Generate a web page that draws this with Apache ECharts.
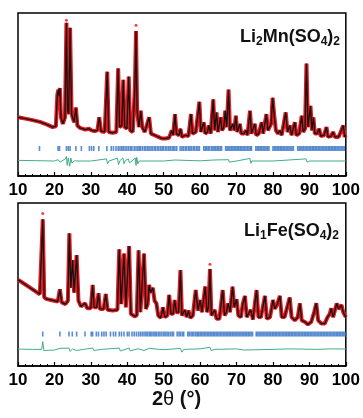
<!DOCTYPE html>
<html><head><meta charset="utf-8">
<script src="https://cdn.jsdelivr.net/npm/echarts@6/dist/echarts.min.js"></script>
<style>html,body{margin:0;padding:0;background:#fff}#c{width:363px;height:418px}</style>
</head><body><div id="c"></div>
<script>
// x tick labels (2theta, degrees)
const xTickLabels = [10,20,30,40,50,60,70,80,90,100];

// Li2Mn(SO4)2 profile vertices [2theta, intensity (a.u.)] (observed ~ calculated)
const profileMn = [[10,36],[12,35.2],[14,34.3],[16,33.2],[18,31.5],[19.5,30],[20.4,30.5],[20.8,50],[21.1,53],[21.3,49],[21.5,54],[21.8,36],[22.3,32],[22.9,36],[23.3,94],[23.6,40],[23.9,38],[24.3,91],[24.7,38],[25.4,33],[25.9,42],[26.3,31],[27,29.5],[28.5,28.5],[29.5,29],[30.2,28],[31,27.5],[31.8,28],[32.3,36],[32.8,27.5],[33.8,27],[34.5,64],[34.9,27],[36,26.5],[37,27],[37.5,66],[37.9,30],[38.5,31],[38.9,59],[39.3,30],[39.9,29],[40.4,61],[40.8,28],[41.5,27],[41.9,45],[42.1,55],[42.4,89],[42.7,40],[43.2,30],[43.7,40],[44.1,30],[44.8,27],[45.3,28],[46,36],[46.5,26],[47.5,25],[48.5,24],[49.5,23],[50.5,23],[51.5,23.5],[52.2,28],[52.6,25],[53.1,38],[53.5,26],[54.2,25],[54.6,29],[55,24],[56,25],[56.8,24.5],[57.5,38],[57.9,26],[58.8,27],[59.8,45.5],[60.2,27],[60.7,26],[61,33],[61.4,26],[62,27],[62.4,31],[62.9,26],[63.6,47],[64,28],[64.5,39],[64.9,27],[65.6,36],[66,28],[66.5,30],[66.9,40],[67.3,30],[67.8,53],[68.2,28],[68.6,27],[69,32],[69.4,28],[69.8,37],[70.2,27],[70.9,32],[71.3,26],[72,26],[72.6,28],[73,25],[73.7,40],[74.1,26],[75,32],[75.4,25],[76.1,26],[76.9,33],[77.3,26],[77.8,27],[78.2,38],[78.6,28],[79.5,32],[79.9,48],[80.4,36],[80.8,28],[81.4,26],[81.9,28],[82.4,25],[83.5,39],[84,27],[84.6,31],[85.1,25],[86,33],[86.4,25],[87.2,26],[87.9,37],[88.3,27],[88.8,29],[89.2,69],[89.6,30],[90.3,43],[90.7,28],[91.1,36],[91.5,26],[92.1,26],[92.7,29],[93.1,24.5],[94,25],[94.7,30],[95.1,24],[96,24.5],[96.5,27],[97,24],[98,24],[98.6,27],[99.3,31],[99.7,24],[100,25]];
const obsTopsMn = [[23.3,95.5],[42.4,92.5]];
const braggMn = [15.9,21.0,21.4,23.3,23.8,24.3,25.9,27.4,29.6,30.2,30.8,32.2,34.4,35.6,36.2,36.9,37.5,38.0,38.5,38.9,39.4,39.9,40.4,40.9,41.3,41.9,42.4,42.9,43.3,43.7,44.2,44.7,45.1,45.6,46.0,46.5,46.9,47.4,47.8,48.3,48.7,49.2,49.6,50.0,50.5,50.9,51.4,51.8,52.3,52.7,53.1,53.6,54.5,55.0,55.4,55.9,56.3,56.8,57.2,57.6,58.1,58.5,59.0,59.4,59.8,61.0,61.4,61.8,62.2,62.6,63.1,63.5,63.9,64.3,64.7,65.1,65.5,65.9,67.0,67.4,67.8,68.2,68.6,69.0,69.4,69.8,70.2,70.6,71.0,71.4,71.8,72.2,72.6,73.0,73.4,73.8,74.1,75.3,75.7,76.1,76.5,76.9,77.3,77.7,78.1,78.5,78.9,80.0,80.4,80.8,81.2,81.6,82.0,82.4,82.8,83.2,83.6,84.0,84.4,84.8,85.2,85.6,86.8,87.2,87.6,88.0,88.4,88.8,89.2,89.6,90.0,90.4,90.8,91.2,91.6,92.0,92.4,92.8,93.2,93.6,94.0,94.4,94.8,95.2,95.6,96.0,96.4,96.8,97.2,97.6,98.0,98.4,98.8,99.2,99.6];
const diffMn = [[10,9.6],[15,9.4],[20,9.2],[21,10],[21.5,8.5],[22,9.2],[23,10.5],[23.3,12],[23.5,6.5],[23.8,11],[24.2,6],[24.5,11],[24.8,8],[25.5,9.3],[26,8.5],[26.5,9.2],[30,9.2],[34.3,10.5],[34.6,7.5],[35,9.2],[37.3,11],[37.6,7],[38,9.5],[38.8,11],[39.1,7.5],[39.5,9.5],[40.3,10.5],[40.6,8],[41,9.2],[42.2,11],[42.4,6.5],[42.6,11.5],[42.9,7.5],[43.3,9.2],[50,9.2],[53,9.8],[53.2,8.8],[60,9.3],[63.6,9.8],[64,8.8],[67.8,10],[68,8.5],[70,9.2],[73.7,10.8],[73.9,7.8],[74.2,9.2],[80,9.2],[89.1,10.5],[89.4,8.5],[90,9.2],[100,9.2]];

// Li1Fe(SO4)2 profile vertices
const profileFe = [[10,52.8],[11,51.5],[12,50],[13,48.5],[14,47],[15,45.5],[16,44],[16.4,43.5],[16.8,90],[17.2,42],[18,41],[19,40.5],[20,40],[20.9,39.5],[21.5,47],[22,39],[23,38],[23.7,40],[24.1,81.4],[24.5,48],[25,65],[25.4,45],[26.1,68],[26.6,40],[27.3,36.5],[28.4,38.5],[29,35.5],[30,35.5],[30.5,49.7],[30.9,36],[31.6,36],[32.1,44.6],[32.5,35],[33.5,35],[34.1,44.2],[34.6,34.5],[36,34],[37.3,34.5],[37.8,71.6],[38.3,38],[38.7,37],[39.1,69],[39.6,36],[40,35],[40.5,73.6],[41,32],[42,30.5],[42.6,31],[43.1,71],[43.6,33],[44.1,32],[44.6,69],[45.1,35],[45.6,38],[46,49.7],[46.4,45],[47,48],[47.5,40],[48,38.4],[48.5,31],[49.2,29.5],[49.8,36],[50.3,30],[51,31],[51.5,43.6],[52,32],[52.6,32],[53,40.5],[53.5,33],[54.1,33],[54.6,58.9],[55,31],[55.8,34.4],[56.3,30],[56.8,34],[57.3,29.5],[58,31],[58.8,46.6],[59.4,34],[60,40.5],[60.5,33],[61.4,48.7],[61.9,33],[62.3,36],[62.7,59.5],[63.1,31],[64,34.4],[64.5,29],[65.3,29],[66.2,46.6],[66.7,31],[67.2,33],[67.7,38.4],[68.2,33],[68.9,48.7],[69.4,36],[70,41],[70.5,31],[71.2,30],[71.7,38],[72.3,43],[72.8,30],[73.9,34.4],[74.5,28.5],[75,29],[75.5,46.6],[76,30],[76.7,30],[77.2,36],[77.8,43],[78.3,29],[79.2,30],[80,40.5],[80.5,35],[81.2,38],[81.9,43],[82.4,30],[83.2,30],[84,37],[84.6,42],[85.1,30],[86,28],[86.8,30],[87.4,38.4],[87.9,28],[88.8,27],[89.6,25.5],[90.5,27],[91.3,33],[91.9,38.5],[92.4,28],[93.3,26],[94.2,26],[95,30],[95.6,32],[96,35.4],[96.5,30],[97,34],[97.5,38.4],[98,35],[98.8,37.4],[99.3,33],[100,30]];
const obsTopsFe = [[16.8,93.5],[62.7,62.5]];
const braggFe = [16.8,21.5,24.0,24.9,26.1,28.4,30.1,30.5,31.5,32.1,33.0,33.6,34.2,35.4,36.2,36.8,37.8,38.4,39.1,40.0,40.5,41.3,41.9,42.5,43.1,43.6,44.1,44.6,45.1,45.5,46.0,46.4,46.8,47.3,47.7,48.1,48.6,49.0,49.5,50.0,50.4,50.9,51.3,51.8,52.3,52.7,53.7,54.2,54.6,55.1,55.5,56.6,57.0,57.5,57.9,58.3,58.8,59.2,59.6,60.0,60.4,60.8,61.2,61.6,62.0,62.4,62.8,63.2,63.6,64.0,64.4,64.8,65.2,65.6,66.0,66.4,66.8,67.2,67.6,68.0,68.4,68.8,69.2,69.6,70.0,70.4,70.8,71.2,71.6,72.0,72.4,72.8,73.2,73.6,74.0,74.4,75.4,75.8,76.2,76.6,77.0,77.4,77.8,78.2,78.6,79.0,79.4,79.8,80.2,80.6,81.0,81.4,81.8,82.2,82.6,83.0,83.4,83.8,84.2,84.6,85.0,85.4,85.8,86.2,86.6,87.0,87.4,87.8,88.2,88.6,89.0,89.4,89.8,90.2,90.6,91.0,91.4,91.8,92.2,92.6,93.0,93.4,93.8,94.2,94.6,95.0,95.4,95.8,96.2,96.6,97.0,97.4,97.8,98.2,98.6,99.0,99.4,99.8];
const diffFe = [[10,10.4],[14,10.2],[16.5,10.2],[16.8,15],[17.1,9.5],[17.5,10],[20,9.8],[21.5,10.8],[22,9.8],[24,11],[24.3,9],[25,10.5],[26,9.5],[28,10.2],[30.5,11],[30.8,9.5],[33,10.2],[37.8,11],[38.1,9.2],[40.5,11],[40.8,9.3],[43,10.6],[44.6,9.5],[46,10.8],[50,10],[54.6,10.8],[55,8.5],[55.5,10.2],[60,10.5],[62.7,11.5],[63,9.5],[64,10.2],[70,10.5],[72,9.8],[80,10.2],[85,10.5],[92,10.2],[96,10.5],[100,10.4]];

const panels = [
  {profile: profileMn, tops: obsTopsMn, bragg: braggMn, diff: diffMn, braggLevel: 16.9},
  {profile: profileFe, tops: obsTopsFe, bragg: braggFe, diff: diffFe, braggLevel: 19.6}
];

const FONT = '"Liberation Sans", Arial, sans-serif';
const chart = echarts.init(document.getElementById('c'), null, {renderer: 'canvas'});

const grids = [
  {left: 18, width: 328, top: 13, height: 163},
  {left: 18, width: 328, top: 203, height: 163}
].map(g => Object.assign(g, {show: true, borderColor: '#000', borderWidth: 1.5, backgroundColor: 'transparent', containLabel: false}));

const xAxes = grids.map((g, i) => ({
  type: 'value', gridIndex: i, min: xTickLabels[0], max: xTickLabels[xTickLabels.length - 1], interval: 10,
  axisLine: {show: true, lineStyle: {color: '#000', width: 1.5}},
  axisTick: {show: true, inside: true, length: 4, lineStyle: {color: '#000', width: 1.2}},
  minorTick: {show: true, splitNumber: 5, length: 2, lineStyle: {color: '#000', width: 1}},
  splitLine: {show: false},
  axisLabel: {show: true, margin: 6, color: '#000', fontFamily: FONT, fontWeight: 'bold', fontSize: 17,
    formatter: v => xTickLabels.includes(v) ? String(v) : ''}
}));
const yAxes = grids.map((g, i) => ({type: 'value', gridIndex: i, min: 0, max: 100, show: false}));

const series = [];
panels.forEach((p, i) => {
  series.push({type: 'line', xAxisIndex: i, yAxisIndex: i, data: p.profile, showSymbol: false, symbol: 'none',
    lineStyle: {color: '#e3191f', width: 4}, z: 2, silent: true});
  series.push({type: 'scatter', xAxisIndex: i, yAxisIndex: i, data: p.tops, symbol: 'circle', symbolSize: 3,
    itemStyle: {color: '#e3191f'}, z: 2, silent: true});
  series.push({type: 'line', xAxisIndex: i, yAxisIndex: i, data: p.profile, showSymbol: false, symbol: 'none',
    lineStyle: {color: '#111', width: 1.3}, z: 3, silent: true});
  series.push({type: 'scatter', xAxisIndex: i, yAxisIndex: i, data: p.bragg.map(x => [x, p.braggLevel]),
    symbol: 'rect', symbolSize: [1.6, 5], itemStyle: {color: '#2f6fc4'}, z: 3, silent: true});
  series.push({type: 'line', xAxisIndex: i, yAxisIndex: i, data: p.diff, showSymbol: false, symbol: 'none',
    lineStyle: {color: '#3fae84', width: 1}, z: 3, silent: true});
});

const rich = {
  a: {fontFamily: FONT, fontWeight: 'bold', fontSize: 18, lineHeight: 22, verticalAlign: 'middle', color: '#111'},
  s: {fontFamily: FONT, fontWeight: 'bold', fontSize: 12, lineHeight: 12, verticalAlign: 'bottom', color: '#111'}
};

chart.setOption({
  animation: false,
  grid: grids, xAxis: xAxes, yAxis: yAxes, series,
  title: [
    {text: '{a|Li}{s|2}{a|Mn(SO}{s|4}{a|)}{s|2}', right: 23, top: 26, padding: 0, textStyle: {rich}},
    {text: '{a|Li}{s|1}{a|Fe(SO}{s|4}{a|)}{s|2}', right: 24, top: 220, padding: 0, textStyle: {rich}}
  ],
  graphic: [{
    type: 'text', left: 152, top: 389,
    style: {text: '{b|2}{n|θ}{b| (°)}', rich: {
      b: {fontFamily: FONT, fontWeight: 'bold', fontSize: 20, lineHeight: 24, fill: '#111', color: '#111'},
      n: {fontFamily: FONT, fontWeight: 'normal', fontSize: 20, lineHeight: 24, fill: '#111', color: '#111'}
    }}
  }]
});
</script></body></html>
